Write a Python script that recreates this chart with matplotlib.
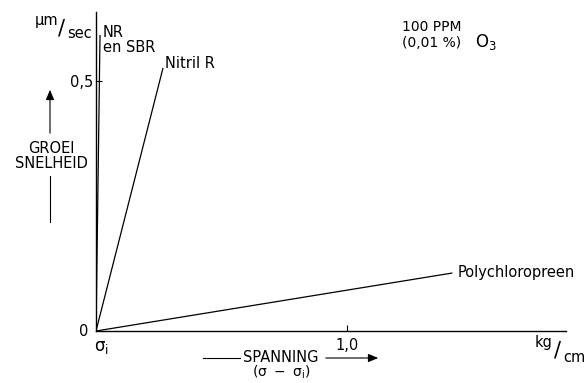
import matplotlib
matplotlib.use("Agg")
import matplotlib.pyplot as plt

# Data: growth rate lines (start at origin, end points)
labels = ["NR\nen SBR", "Nitril R", "Polychloropreen"]
x_end = [0.016, 0.267, 1.42]
y_end = [0.592, 0.526, 0.116]

W, H = 588, 383
fig = plt.figure(figsize=(W / 100, H / 100), dpi=100)
plt.rcParams["font.family"] = ["DejaVu Sans"]
FS = 10.5


def px(x, y):
    return x / W, 1 - y / H


# axes: origin at pixel (96, 331), 1.0 kg/cm = 251 px, 0.5 um/sec = 250 px
ax = fig.add_axes([96 / W, (H - 331) / H, 470 / W, 319 / H])
ax.set_xlim(0, 470 / 251)
ax.set_ylim(0, 319 / 500)
for s in ["top", "right"]:
    ax.spines[s].set_visible(False)
for s in ["left", "bottom"]:
    ax.spines[s].set_linewidth(1.0)
ax.set_xticks([1.0])
ax.set_xticklabels(["1,0"])
ax.set_yticks([0.5])
ax.set_yticklabels(["0,5"])
ax.tick_params(direction="in", length=4, width=0.8, labelsize=FS)
ax.tick_params(axis="x", pad=5)
ax.tick_params(axis="y", pad=2)

for xe, ye in zip(x_end, y_end):
    ax.plot([0, xe], [0, ye], color="black", lw=0.9, solid_capstyle="butt")

ax.text(x_end[0] + 0.01, y_end[0] - 0.01, labels[0], fontsize=FS, va="center", ha="left",
        linespacing=1.0)
ax.text(x_end[1] + 0.008, y_end[1] + 0.01, labels[1], fontsize=FS, va="center", ha="left")
ax.text(x_end[2] + 0.02, y_end[2], labels[2], fontsize=FS, va="center", ha="left")

# origin labels
fig.text(*px(88, 331), "0", fontsize=FS, ha="right", va="center")
fig.text(*px(101, 347), r"$\mathregular{\sigma_i}$", fontsize=12, ha="center", va="center")

# y-axis unit
fig.text(*px(58, 21), "μm", fontsize=FS, ha="right", va="center")
fig.text(*px(62, 28), "/", fontsize=15, ha="center", va="center")
fig.text(*px(67, 33), "sec", fontsize=FS, ha="left", va="center")

# x-axis unit
fig.text(*px(553, 343), "kg", fontsize=FS, ha="right", va="center")
fig.text(*px(558, 350), "/", fontsize=15, ha="center", va="center")
fig.text(*px(563, 358), "cm", fontsize=FS, ha="left", va="center")

# ozone note
fig.text(*px(432, 35), "100 PPM\n(0,01 %)", fontsize=10, ha="center", va="center",
         linespacing=1.1)
fig.text(*px(486, 42), r"$\mathregular{O_3}$", fontsize=12, ha="center", va="center")

# GROEI SNELHEID with arrow
fig.text(*px(51, 156), "GROEI\nSNELHEID", fontsize=FS, ha="center", va="center",
         linespacing=1.0)
fig.add_artist(matplotlib.patches.FancyArrowPatch(
    px(50, 136), px(50, 87), transform=fig.transFigure,
    arrowstyle="-|>,head_length=6,head_width=2.5", color="black", lw=0.8))
fig.add_artist(matplotlib.lines.Line2D(
    [px(50, 176)[0], px(50, 222)[0]], [px(50, 176)[1], px(50, 222)[1]],
    transform=fig.transFigure, color="black", lw=0.8))

# SPANNING with arrow
fig.text(*px(281, 357), "SPANNING", fontsize=FS, ha="center", va="center")
fig.text(*px(281, 372), r"$\mathregular{(\sigma\ -\ \sigma_i)}$", fontsize=10, ha="center",
         va="center")
fig.add_artist(matplotlib.lines.Line2D(
    [px(203, 358)[0], px(240, 358)[0]], [px(203, 358)[1], px(240, 358)[1]],
    transform=fig.transFigure, color="black", lw=0.8))
fig.add_artist(matplotlib.patches.FancyArrowPatch(
    px(323, 358), px(381, 358), transform=fig.transFigure,
    arrowstyle="-|>,head_length=6,head_width=2.5", color="black", lw=0.8))

fig.savefig("out.png", dpi=100)
